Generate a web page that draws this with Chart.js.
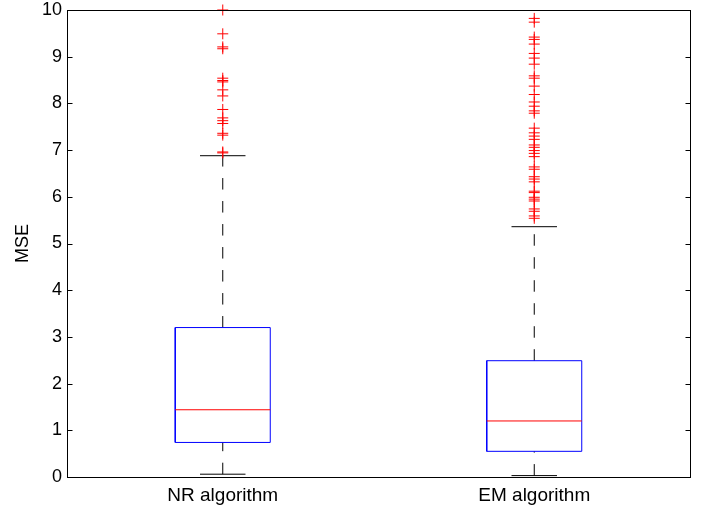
<!DOCTYPE html>
<html>
<head>
<meta charset="utf-8">
<script src="https://cdn.jsdelivr.net/npm/chart.js@4"></script>
<style>
  html, body { margin: 0; padding: 0; background: #fff; }
  #wrap { width: 710px; height: 508px; }
</style>
</head>
<body>
<div id="wrap"><canvas id="c" width="710" height="508"></canvas></div>
<script>
// Categories and box statistics (MSE per algorithm)
const categories = ['NR algorithm', 'EM algorithm'];
const whiskerLow  = [0.06, 0.03];
const quartile1   = [0.74, 0.55];
const medians     = [1.44, 1.20];
const quartile3   = [3.20, 2.49];
const whiskerHigh = [6.88, 5.36];

// Outlying values beyond the upper whisker
const outliersNR = [10.0, 9.49, 9.21, 9.17, 8.54, 8.49, 8.46, 8.29, 8.16, 7.87,
                    7.69, 7.63, 7.57, 7.36, 7.32, 6.96, 6.94];
const outliersEM = [9.82, 9.74, 9.42, 9.37, 9.27, 9.07, 8.97, 8.84, 8.59, 8.54,
                    8.37, 8.19, 8.03, 7.94, 7.84, 7.79, 7.47, 7.37, 7.30, 7.23,
                    7.11, 7.06, 6.99, 6.93, 6.86, 6.64, 6.59, 6.43, 6.38, 6.32,
                    6.12, 6.09, 5.99, 5.95, 5.91, 5.74, 5.69, 5.59, 5.54];
const outliers = [outliersNR, outliersEM];

const yTicks = [0, 1, 2, 3, 4, 5, 6, 7, 8, 9, 10];

const BOX_HALF = 0.1525;  // half box width, in category units
const CAP_HALF = 0.073;   // half whisker-cap width
const FONT = 'Liberation Sans, Arial, Helvetica, sans-serif';

const line = (points, color, dash) => ({
  data: points,
  showLine: true,
  borderColor: color,
  borderWidth: 1,
  borderDash: dash || [],
  pointRadius: 0,
  pointHoverRadius: 0,
  fill: false,
  tension: 0
});

const datasets = [];
// outlier markers
datasets.push({
  data: outliers.flatMap((vals, i) => vals.map(v => ({ x: i + 1, y: v }))),
  showLine: false,
  pointStyle: 'cross',
  pointRadius: 5.5,
  pointBorderWidth: 1,
  borderColor: '#ff0000',
  backgroundColor: '#ff0000',
  clip: false
});
categories.forEach((c, i) => {
  const x = i + 1;
  datasets.push(line([{x: x - BOX_HALF, y: medians[i]}, {x: x + BOX_HALF, y: medians[i]}], '#ff0000'));
  datasets.push(line([
    {x: x - BOX_HALF, y: quartile1[i]}, {x: x + BOX_HALF, y: quartile1[i]},
    {x: x + BOX_HALF, y: quartile3[i]}, {x: x - BOX_HALF, y: quartile3[i]},
    {x: x - BOX_HALF, y: quartile1[i]}], '#0000ff'));
  datasets.push(line([{x: x, y: quartile3[i]}, {x: x, y: whiskerHigh[i]}], '#000000', [11.5, 11.5]));
  datasets.push(line([{x: x, y: whiskerLow[i]}, {x: x, y: quartile1[i]}], '#000000', [11.5, 11.5]));
  datasets.push(line([{x: x - CAP_HALF, y: whiskerHigh[i]}, {x: x + CAP_HALF, y: whiskerHigh[i]}], '#000000'));
  datasets.push(line([{x: x - CAP_HALF, y: whiskerLow[i]}, {x: x + CAP_HALF, y: whiskerLow[i]}], '#000000'));
});

// Axis box with inward tick marks on the left and right sides
const frame = {
  id: 'frame',
  afterDraw(chart) {
    const {ctx, chartArea: a} = chart;
    const ys = chart.scales.y;
    const L = Math.round(a.left) + 0.5, R = Math.round(a.right) + 0.5;
    const T = Math.round(a.top) + 0.5, B = Math.round(a.bottom) + 0.5;
    ctx.save();
    ctx.strokeStyle = '#000';
    ctx.lineWidth = 1;
    ctx.strokeRect(L, T, R - L, B - T);
    ctx.beginPath();
    ys.ticks.forEach(t => {
      const py = Math.round(ys.getPixelForValue(t.value)) + 0.5;
      ctx.moveTo(L, py); ctx.lineTo(L + 5, py);
      ctx.moveTo(R, py); ctx.lineTo(R - 5, py);
    });
    ctx.stroke();
    ctx.restore();
  }
};

new Chart(document.getElementById('c'), {
  type: 'scatter',
  data: { datasets },
  options: {
    responsive: false,
    animation: false,
    events: [],
    layout: { padding: { top: 10, right: 20, left: 0, bottom: 0 } },
    plugins: { legend: { display: false }, tooltip: { enabled: false } },
    scales: {
      x: {
        type: 'linear',
        min: 0.5, max: 2.5,
        grid: { display: false, drawTicks: false },
        border: { display: false },
        afterBuildTicks: s => { s.ticks = categories.map((c, i) => ({ value: i + 1 })); },
        afterFit: s => { s.height = 31; s.paddingLeft = 0; s.paddingRight = 0; },
        ticks: {
          padding: 7,
          color: '#000',
          font: { family: FONT, size: 19 },
          maxRotation: 0,
          callback: v => categories[v - 1]
        }
      },
      y: {
        min: 0, max: 10,
        grid: { display: false, drawTicks: false },
        border: { display: false },
        afterBuildTicks: s => { s.ticks = yTicks.map(v => ({ value: v })); },
        afterFit: s => { s.width = 67; s.paddingTop = 0; s.paddingBottom = 0; },
        title: {
          display: true, text: 'MSE', color: '#000',
          font: { family: FONT, size: 18 },
          padding: { top: 12, bottom: 0 }
        },
        ticks: {
          padding: 5,
          color: '#000',
          font: { family: FONT, size: 18 }
        }
      }
    }
  },
  plugins: [frame]
});
</script>
</body>
</html>
